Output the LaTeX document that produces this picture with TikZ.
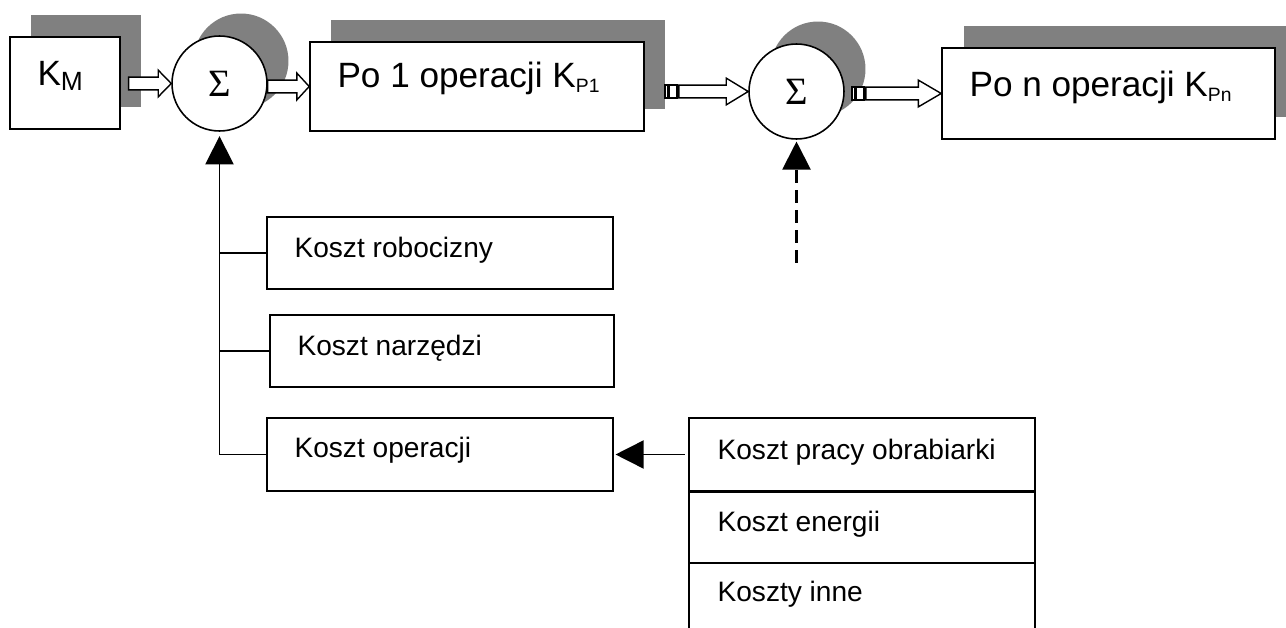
\documentclass[tikz,border=0pt]{standalone}
\usepackage{fontspec}
\setmainfont{Liberation Sans}
\newfontfamily\sigmafont{Liberation Serif}
\usetikzlibrary{arrows.meta,calc,fit,shadows}
\definecolor{shadowgray}{HTML}{808080}

\newcommand{\subidx}[2]{\raisebox{-3.2pt}{\fontsize{#1}{#1}\selectfont #2}}
% hollow block arrow: from, to, head length, tail gap
\newcommand{\flowarrow}[4]{%
  \draw[flow] let \p1=(#1), \p2=(#2) in
    (\x1+#4,\y2+3.6pt) -- (\x2-#3,\y2+3.6pt) -- (\x2-#3,\y2+7.6pt) -- (\x2,\y2)
    -- (\x2-#3,\y2-7.6pt) -- (\x2-#3,\y2-3.6pt) -- (\x1+#4,\y2-3.6pt) -- cycle;}
\newcommand{\stripedarrow}[4]{%
  \flowarrow{#1}{#2}{#3}{#4+8pt}
  \draw[flow] let \p1=(#1), \p2=(#2) in
    (\x1+#4,\y2-3.6pt) rectangle ++(1.7pt,7.2pt)
    (\x1+#4+2.8pt,\y2-3.6pt) rectangle ++(4.2pt,7.2pt);}

\begin{document}
\begin{tikzpicture}[x=0.02cm,y=-0.02cm,
box/.style={draw,line width=0.9pt,inner sep=0pt,fill=white},
shadowed/.style={drop shadow={shadow xshift=0.43cm,shadow yshift=0.45cm,opacity=1,fill=shadowgray}},
sum/.style={circle,draw,line width=0.9pt,fill=white,minimum size=1.9cm,inner sep=0pt,font=\fontsize{22pt}{22pt}\sigmafont},
lbl/.style={anchor=base west,inner sep=0pt,font=\fontsize{16pt}{18pt}\selectfont},
biglbl/.style={anchor=base west,inner sep=0pt,font=\fontsize{20pt}{22pt}\selectfont},
flow/.style={draw,fill=white,line width=0.8pt},
feed/.style={line width=0.9pt,-{Triangle[length=16pt,width=16pt]}}]
\useasboundingbox (0,0) rectangle (1286,628);
\fill[white] (0,0) rectangle (1286,628);

% top row
\node[box,shadowed,fit={(10,37) (120,129)}] (km) {};
\node[biglbl] (kmlab) at ([shift={(28,49)}]km.north west) {K\subidx{15pt}{M}};
\node[sum,shadowed] (s1) at (219.5,83.5) {Σ};
\node[box,shadowed,fit={(310,42) (644,131)}] (p1) {};
\node[biglbl] (p1lab) at ([shift={(28,46)}]p1.north west) {Po 1 operacji K\subidx{11pt}{P1}};
\node[sum,shadowed] (s2) at (796.5,91.5) {Σ};
\node[box,shadowed,fit={(942,48) (1275,139)}] (pn) {};
\node[biglbl] (pnlab) at ([shift={(28,49)}]pn.north west) {Po n operacji K\subidx{11pt}{Pn}};

\flowarrow{km.east}{s1.west}{7.4pt}{4.5pt}
\flowarrow{s1.east}{p1.west}{7pt}{0pt}
\stripedarrow{p1.east}{s2.west}{12.5pt}{11.4pt}
\stripedarrow{s2.east}{pn.west}{13pt}{4pt}

% cost components
\node[box,fit={(267,217) (613,289)}] (rob) {};
\node[lbl] (roblab) at ([shift={(28,41)}]rob.north west) {Koszt robocizny};
\node[box,fit={(270,315) (614,387)}] (nar) {};
\node[lbl] (narlab) at ([shift={(28,41)}]nar.north west) {Koszt narzędzi};
\node[box,fit={(267,418) (613,491)}] (op) {};
\node[lbl] (oplab) at ([shift={(28,40)}]op.north west) {Koszt operacji};

\node[box,fit={(689,418) (1035,491)}] (ob) {};
\node[lbl] (oblab) at ([shift={(29,42)}]ob.north west) {Koszt pracy obrabiarki};
\node[box,fit={(689,491) (1035,563)}] (en) {};
\node[lbl] (enlab) at ([shift={(29,41)}]en.north west) {Koszt energii};
\node[box,fit={(689,563) (1035,660)}] (inne) {};
\node[lbl] (innelab) at ([shift={(29,39)}]inne.north west) {Koszty inne};
\draw[line width=1.7pt] (ob.south west) -- (ob.south east);

\draw[feed,shorten >=2.5pt] (op.west) -| (s1.south);
\draw[line width=0.9pt] (rob.west) -- (rob.west -| s1.south);
\draw[line width=0.9pt] (nar.west) -- (nar.west -| s1.south);
\draw[feed,shorten <=2pt,shorten >=1pt] (ob.west) -- (op.east);

\coordinate (extra) at (796.5,263);
\draw[feed,line width=1.2pt,dash pattern=on 7.4pt off 4pt,shorten >=1pt] (extra) -- (s2.south);
\end{tikzpicture}
\end{document}
